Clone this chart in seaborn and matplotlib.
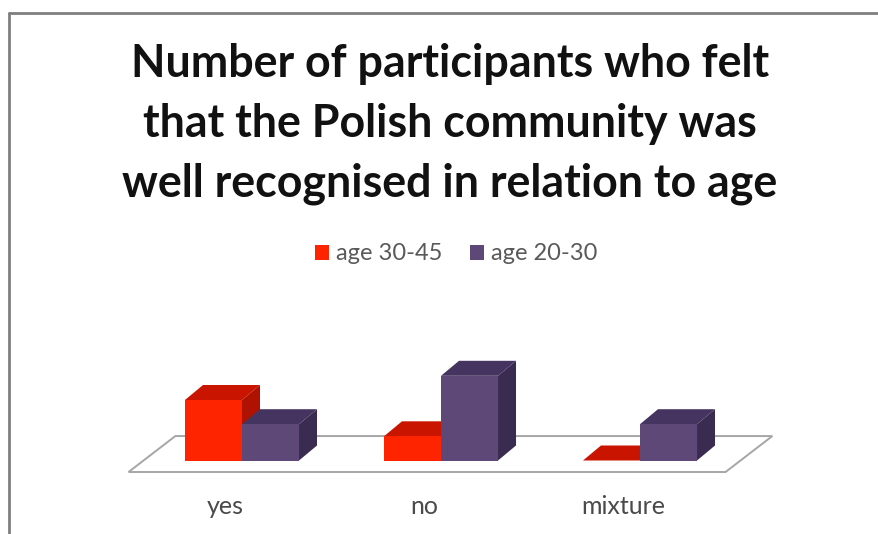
import matplotlib
matplotlib.use("Agg")
import matplotlib.pyplot as plt
from matplotlib.lines import Line2D
from matplotlib.patches import Polygon
from matplotlib.transforms import ScaledTranslation
import pandas as pd
import seaborn as sns

# Survey responses per age group
answers = ["yes", "no", "mixture"]
age_30_45 = [5, 2, 0]
age_20_30 = [3, 7, 3]
series_names = ["age 30-45", "age 20-30"]

title_text = ("Number of participants who felt\n"
              "that the Polish community was\n"
              "well recognised in relation to age")

FRONT = ["#FF2400", "#5E4877"]
TOP = ["#C91500", "#45345F"]
SIDE = ["#B01200", "#3A2B50"]
FLOOR_COLOR = "#A6A6A6"

W, H = 879, 534
PX_PER_UNIT = 12.1
sns.set_theme(style="white")
plt.rcParams["font.family"] = ["Lato", "DejaVu Sans"]

df = pd.DataFrame({
    "answer": answers * 2,
    "count": age_30_45 + age_20_30,
    "group": [series_names[0]] * 3 + [series_names[1]] * 3,
})

fig = plt.figure(figsize=(W / 100, H / 100), dpi=100, facecolor="white")
ax = fig.add_axes([142.5 / W, 1 - 460.5 / H, 597 / W, 8 * PX_PER_UNIT / H])
sns.barplot(data=df, x="answer", y="count", hue="group", hue_order=series_names,
            order=answers, palette=FRONT, width=0.573, gap=0, saturation=1,
            edgecolor="none", linewidth=0, ax=ax)
ax.set_xlim(-0.5, 2.5)
ax.set_ylim(0, 8)
ax.set_xlabel("")
ax.set_ylabel("")
ax.set_yticks([])
sns.despine(ax=ax, left=True, bottom=True)
ax.tick_params(axis="x", length=0, pad=25, labelsize=18, labelcolor="#4A4A4A")

# The category labels sit slightly left of their bar groups, under the floor's front edge
label_shift = ScaledTranslation(-17 / 100, 0, fig.dpi_scale_trans)
for label in ax.get_xticklabels():
    label.set_transform(label.get_transform() + label_shift)

# Extrusion depth of the pseudo-3D bars, in data units
DEPTH_X = 18 / 199
DEPTH_Y = 15 / PX_PER_UNIT

# Floor plane below the bars
floor = Polygon([(-0.57, -0.95), (2.43, -0.95), (2.665, 2.02), (-0.335, 2.02)],
                closed=True, facecolor="white", edgecolor=FLOOR_COLOR, linewidth=1.4,
                zorder=1, clip_on=False)
ax.add_patch(floor)

# Give every bar a top and a side face, then keep its front face above them
for i, container in enumerate(ax.containers):
    base_z = 2 + i * 3
    for bar in container:
        x0, w, h = bar.get_x(), bar.get_width(), bar.get_height()
        ax.add_patch(Polygon([(x0, h), (x0 + w, h), (x0 + w + DEPTH_X, h + DEPTH_Y),
                              (x0 + DEPTH_X, h + DEPTH_Y)],
                             facecolor=TOP[i], edgecolor="none", zorder=base_z, clip_on=False))
        if h > 0:
            ax.add_patch(Polygon([(x0 + w, 0), (x0 + w + DEPTH_X, DEPTH_Y),
                                  (x0 + w + DEPTH_X, h + DEPTH_Y), (x0 + w, h)],
                                 facecolor=SIDE[i], edgecolor="none", zorder=base_z, clip_on=False))
        bar.set_zorder(base_z + 1)
        bar.set_clip_on(False)

handles, labels = ax.get_legend_handles_labels()
ax.legend(handles, labels, ncol=2, frameon=False, loc="center",
          bbox_to_anchor=(456 / W, 1 - 254 / H), bbox_transform=fig.transFigure,
          handlelength=0.6, handleheight=0.6, handletextpad=0.3, columnspacing=1.15,
          labelcolor="#595959", prop={"family": "Lato", "size": 17})

fig.suptitle(title_text, x=450 / W, y=1 - 124 / H, va="center", ha="center",
             fontsize=32.2, fontweight="bold", color="#111111", linespacing=1.51,
             family="Lato")

# Outer frame along the top and left edges
frame_style = dict(color="#7F7F7F", linewidth=2, transform=fig.transFigure)
fig.add_artist(Line2D([9 / W, 1], [1 - 12.5 / H, 1 - 12.5 / H], **frame_style))
fig.add_artist(Line2D([9 / W, 9 / W], [1 - 12.5 / H, 0], **frame_style))

fig.savefig("out.png", dpi=100)
